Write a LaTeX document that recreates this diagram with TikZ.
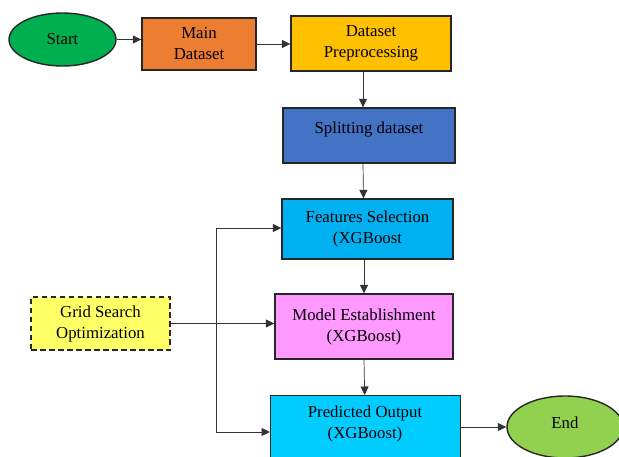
\documentclass[tikz,border=0pt]{standalone}
\usepackage{fontspec}
\setmainfont{Liberation Serif}
\usetikzlibrary{arrows.meta,shapes.geometric}

\definecolor{cStart}{HTML}{00B050}
\definecolor{cMain}{HTML}{ED7D31}
\definecolor{cPrep}{HTML}{FFC000}
\definecolor{cSplit}{HTML}{4472C4}
\definecolor{cFeat}{HTML}{00B0F0}
\definecolor{cModel}{HTML}{FF99FF}
\definecolor{cGrid}{HTML}{FFFF66}
\definecolor{cPred}{HTML}{00CCFF}
\definecolor{cEnd}{HTML}{92D050}

\tikzset{
  stepbox/.style={draw=black!85, line width=1.4pt, rectangle, inner sep=0pt,
    align=center, font=\fontsize{16.8}{21}\selectfont},
  oval/.style={draw=black!85, line width=1.4pt, ellipse, inner sep=0pt,
    font=\fontsize{16.8}{21}\selectfont},
  txt/.style={align=center, inner sep=0pt, font=\fontsize{16.8}{21}\selectfont},
  arr/.style={draw=black!80, line width=0.7pt, -{Triangle[length=8.5pt,width=8pt]}},
  ln/.style={draw=black!80, line width=0.7pt},
  dashedbox/.style={dash pattern=on 5.5pt off 3.5pt},
}

\begin{document}
\begin{tikzpicture}[x=1pt,y=-1pt]
\useasboundingbox (0,0) rectangle (619,457);
\clip (0,0) rectangle (619,457);

% process chain
\node[oval, fill=cStart, minimum width=107, minimum height=53] (start) at (62.5,39.5) {Start};
\node[stepbox, fill=cMain, minimum width=114, minimum height=52] (main) at (199,44) {Main\\Dataset};
\node[stepbox, fill=cPrep, minimum width=160, minimum height=55] (prep) at (371,43.5) {Dataset\\Preprocessing};
\node[stepbox, fill=cSplit, minimum width=172, minimum height=55] (split) at (369,135.5) {};
\node[txt] (splittxt) at (369,129) {Splitting dataset};
\node[stepbox, fill=cFeat, minimum width=171, minimum height=60] (feat) at (367.5,229) {Features Selection\\(XGBoost};
\node[stepbox, fill=cModel, minimum width=178, minimum height=65] (model) at (364,326.5) {Model Establishment\\(XGBoost)};
\node[stepbox, fill=cPred, minimum width=190, minimum height=80, anchor=north west] (pred) at (270,395) {};
\node[txt] (predtxt) at (365,423.5) {Predicted Output\\(XGBoost)};
\node[oval, fill=cEnd, minimum width=116, minimum height=62] (end) at (565,427) {};
\node[txt] (endtxt) at (565,423) {End};

% tuning input
\node[stepbox, fill=cGrid, dashedbox, minimum width=139, minimum height=53] (grid) at (100.5,323.5) {Grid Search\\Optimization};

% connectors
\draw[arr] (start.east) -- (start.east -| main.west);
\draw[arr] (main.east) -- (main.east -| prep.west);
\draw[arr] ([xshift=-8pt]prep.south) -- ([xshift=-6pt]split.north);
\draw[arr] ([xshift=-6pt]split.south) -- ([xshift=-4pt]feat.north);
\draw[arr] ([xshift=-3.5pt]feat.south) -- (model.north);
\draw[arr] (model.south) -- ([xshift=-1pt]pred.north);
\draw[arr] (grid.east) -- (grid.east -| model.west);

\coordinate (jt) at (216,228);
\coordinate (jb) at (216,432);
\draw[ln] (jt) -- (jb);
\draw[arr] (jt) -- (jt -| feat.west);
\draw[arr] (jb) -- (jb -| pred.west);
\draw[arr] (pred.east |- end.west) -- (end.west);
\end{tikzpicture}
\end{document}
